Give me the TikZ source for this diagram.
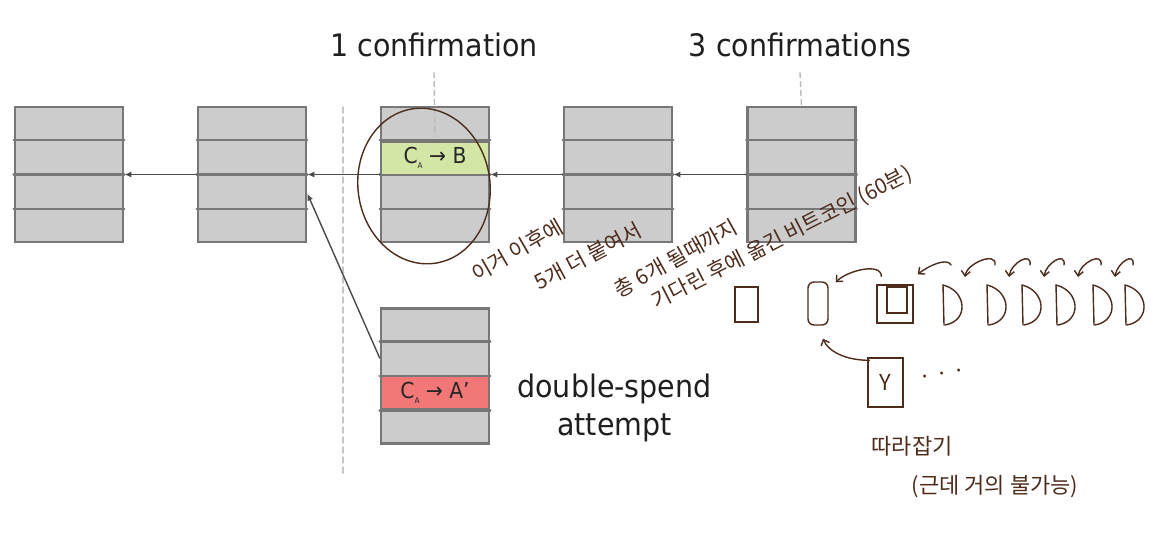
\documentclass[tikz,border=0pt]{standalone}
\usepackage{fontspec}
\setmainfont{DejaVu Sans}[FakeStretch=0.92]
\newfontfamily\kor{Noto Sans CJK KR}
\usetikzlibrary{arrows.meta,calc}

\definecolor{blokgrijs}{HTML}{CCCCCC}
\definecolor{randgrijs}{HTML}{777777}
\definecolor{txgroen}{HTML}{D3E6A6}
\definecolor{txrood}{HTML}{F27777}
\definecolor{lijngrijs}{HTML}{4A4A4A}
\definecolor{inkt}{HTML}{4E2C1C}

\begin{document}
\begin{tikzpicture}[
    x=1pt, y=-1pt,
    line cap=round,
    blok/.style={draw=randgrijs, fill=blokgrijs, line width=2.6pt,
        minimum width=108pt, minimum height=135pt, inner sep=0pt},
    rij/.style={draw=randgrijs, line width=2.6pt},
    tx/.style={draw=randgrijs, line width=2.6pt, minimum width=108pt,
        minimum height=33.5pt, inner sep=0pt, text=black!85,
        font=\fontsize{22}{22}\selectfont},
    pijl/.style={draw=lijngrijs, line width=1.4pt, -{Latex[length=7pt,width=6pt]}},
    kop/.style={font=\fontsize{31}{38}\selectfont, text=black!88, inner sep=0pt},
    stip/.style={draw=gray!55, line width=1.4pt, dash pattern=on 5pt off 4pt},
    pen/.style={draw=inkt, line width=1.4pt},
    penpijl/.style={pen, -{Straight Barb[length=5pt,width=9pt]}},
    hand/.style={text=inkt, font=\kor\fontsize{21}{23}\selectfont, inner sep=0pt},
    hbox/.style={pen, inner sep=0pt},
    pics/dvorm/.style={
        code={
            \draw[pen] (0,0) -- (1,40);
            \draw[pen] (0,0) .. controls (24,6) and (26,36) .. (2,40);
            \coordinate (-boven) at (8,-20);
            \coordinate (-rechts) at (22,-8);
        }
    }
]
\useasboundingbox (0,0) rectangle (1165,536);
\fill[white] (0,0) rectangle (1165,536);

% scheidingslijn
\draw[gray!45, line width=1.5pt, dash pattern=on 6pt off 4pt] (343,107) -- (343,476);

% de keten
\node[blok] (b1) at (69,174.5) {};
\node[blok] (b2) at (252,174.5) {};
\node[blok] (b3) at (435,174.5) {};
\node[blok] (b4) at (618,174.5) {};
\node[blok] (b5) at (801.5,174.5) {};
\node[blok] (ds) at (435,376) {};

\foreach \b in {b1,b2,b3,b4,b5,ds}
    \foreach \f in {0.25,0.5,0.75}
        \draw[rij] ($(\b.north west)!\f!(\b.south west)$) -- ($(\b.north east)!\f!(\b.south east)$);

\node[tx, fill=txgroen] (tb) at (435,158.25) {C\raisebox{-5pt}{\fontsize{8}{8}\selectfont A} → B};
\node[tx, fill=txrood] (ta) at (435,392.75) {C\raisebox{-5pt}{\fontsize{8}{8}\selectfont A} → A’};

\foreach \van/\naar in {b5/b4,b4/b3,b3/b2,b2/b1}
    \draw[pijl] (\van) -- (\naar);
\draw[pijl] (ds.162) -- (b2.-19);

% bevestigingen
\node[kop, anchor=base] (c1) at (434,56) {1 confirmation};
\node[kop, anchor=base] (c3) at (800,56) {3 confirmations};
\node[kop, align=center] (dsl) at (614.5,408) {double-spend\\attempt};
\draw[stip] ([yshift=-16pt]c1.south) -- ($(b3.north)!0.22!(b3.south)$);
\draw[stip] ([yshift=-16pt]c3.south) -- (b5.north);

% aantekeningen
\draw[pen] (424,186) ellipse [x radius=66, y radius=78, rotate=8];

\node[hand, rotate=30] (n1) at (517,250) {이거 이후에};
\node[hand, rotate=28] (n2) at (588,256) {5개 더 붙여서};
\node[hand, rotate=29] (n3) at (676,258) {총 6개 될때까지};
\node[hand, rotate=27] (n4) at (782,238) {기다린 후에 옮긴 비트코인 (60분)};

\node[hbox, draw, minimum width=23pt, minimum height=35pt] (h1) at (746.5,304.5) {};
\node[hbox, draw, rounded corners=6pt, minimum width=20pt, minimum height=43pt] (h2) at (818,303.5) {};
\node[hbox, draw, minimum width=36pt, minimum height=38pt] (h3) at (895,304) {};
\node[hbox, draw, minimum width=20pt, minimum height=26pt] (h3in) at (897,300) {};

\pic (d1) at (943,285) {dvorm};
\pic (d2) at (987,285) {dvorm};
\pic (d3) at (1022,285) {dvorm};
\pic (d4) at (1056,285) {dvorm};
\pic (d5) at (1093,285) {dvorm};
\pic (d6) at (1125,285) {dvorm};

\draw[penpijl] ([shift={(5,-8)}]h3.north west) .. controls +(0,-14) and +(12,-12) .. ([shift={(7,1)}]h2.north east);
\draw[penpijl] (d1-boven) .. controls +(-4,-8) and +(10,-8) .. ([shift={(4,-10)}]h3.north east);
\foreach \van/\naar in {d2/d1,d3/d2,d4/d3,d5/d4,d6/d5}
    \draw[penpijl] (\van-boven) .. controls +(2,-14) and +(2,-14) .. (\naar-rechts);

\node[hbox, draw, minimum width=35pt, minimum height=49pt, text=inkt,
    font=\kor\fontsize{22}{22}\selectfont] (yb) at (885.5,382.5) {Y};
\node[hand, rotate=10, font=\kor\fontsize{22}{22}\selectfont] (dots) at (943,377) {· · ·};
\draw[penpijl] ([shift={(2,3)}]yb.north west) .. controls +(-25,0) and +(5,12) .. ([shift={(5,13)}]h2.south);

\node[hand, font=\kor\fontsize{22}{24}\selectfont] (n5) at (912,446) {따라잡기};
\node[hand, font=\kor\fontsize{22}{24}\selectfont] (n6) at (995,487) {(근데 거의 불가능)};

\end{tikzpicture}
\end{document}
